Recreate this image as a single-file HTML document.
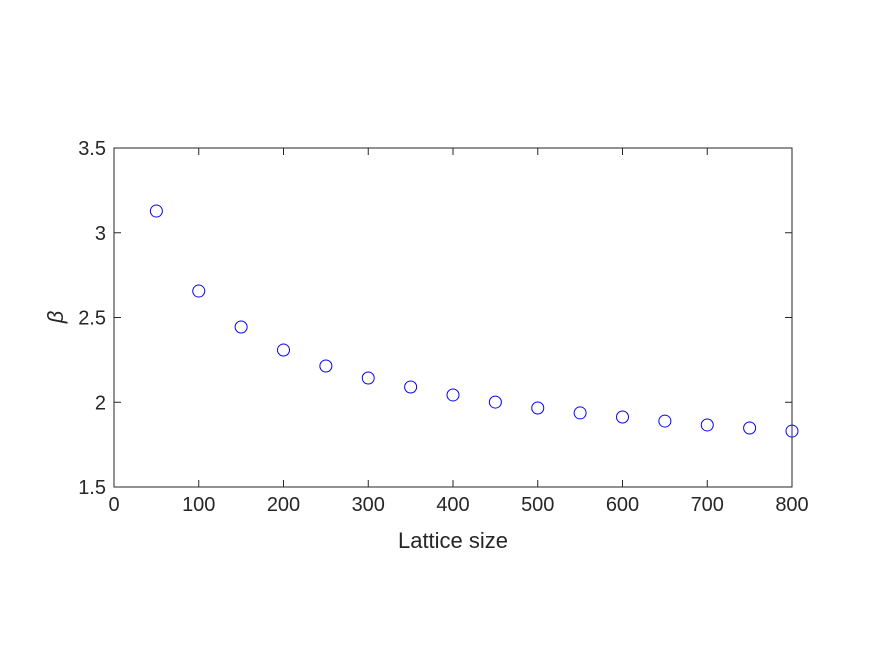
<!DOCTYPE html>
<html><head><meta charset="utf-8"><style>
body{margin:0;background:#fff;}
svg text{font-family:"Liberation Sans",sans-serif;fill:#262626;}
</style></head><body>
<svg id="chart" width="875" height="656" xmlns="http://www.w3.org/2000/svg">
<rect width="875" height="656" fill="#fff"/>
<g id="plot"></g>
</svg>
<script>
const xValues=[50,100,150,200,250,300,350,400,450,500,550,600,650,700,750,800];
const betaValues=[3.128,2.656,2.444,2.308,2.214,2.143,2.090,2.043,2.001,1.966,1.937,1.913,1.889,1.866,1.848,1.830];
const xTicks=[0,100,200,300,400,500,600,700,800];
const yTicks=[1.5,2,2.5,3,3.5];
const L=114,R=792,T=148,B=487;
const xs=v=>L+(v-0)/(800-0)*(R-L);
const ys=v=>B-(v-1.5)/(3.5-1.5)*(B-T);
const NS='http://www.w3.org/2000/svg';
const g=document.getElementById('plot');
function mk(t,a){const e=document.createElementNS(NS,t);for(const k in a)e.setAttribute(k,a[k]);g.appendChild(e);return e;}
const box=mk('rect',{x:L,y:T,width:R-L,height:B-T,fill:'none',stroke:'#262626','stroke-width':1});


xTicks.forEach(v=>{
  const x=xs(v);
  const t1=mk('line',{x1:x,y1:B,x2:x,y2:B-7,stroke:'#262626'});
  
  
  const t2=mk('line',{x1:x,y1:T,x2:x,y2:T+7,stroke:'#262626'});
  
  
  const lb=mk('text',{x:x,y:B+24,'text-anchor':'middle','font-size':20});
  lb.textContent=v;
  
  
});
yTicks.forEach(v=>{
  const y=ys(v);
  const t1=mk('line',{x1:L,y1:y,x2:L+7,y2:y,stroke:'#262626'});
  
  
  const t2=mk('line',{x1:R,y1:y,x2:R-7,y2:y,stroke:'#262626'});
  
  
  const lb=mk('text',{x:L-8,y:y+7,'text-anchor':'end','font-size':20});
  lb.textContent=v;
  
  
});
xValues.forEach((v,i)=>{
  const c=mk('circle',{cx:xs(v),cy:ys(betaValues[i]),r:6,fill:'none',stroke:'#0000ff','stroke-width':1});
  
  
});
const xt=mk('text',{x:(L+R)/2,y:548,'text-anchor':'middle','font-size':22});
xt.textContent='Lattice size';


const yt=mk('text',{x:0,y:0,'text-anchor':'middle','font-size':22,'font-style':'italic','font-family':'Liberation Serif, serif',transform:'translate(63,317) rotate(-90)'});
yt.textContent='β';


</script>
</body></html>
